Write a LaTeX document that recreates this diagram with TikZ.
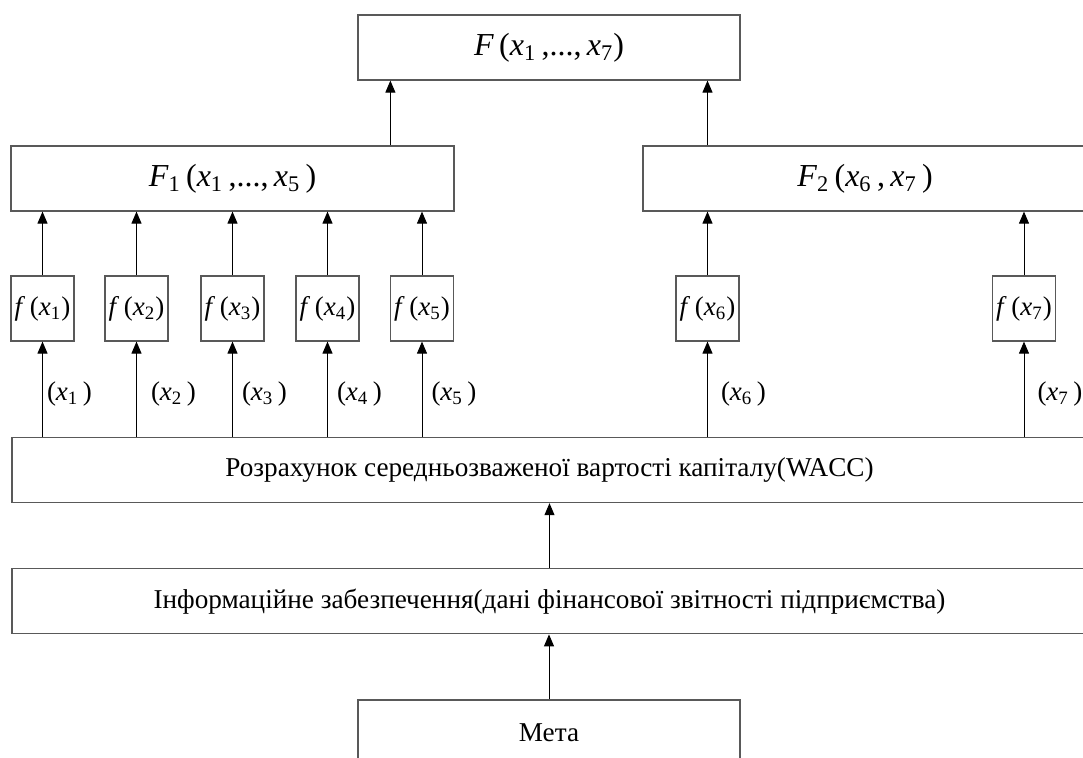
\documentclass[tikz,border=0pt]{standalone}
\usepackage{fontspec}
\setmainfont{Liberation Serif}
\usetikzlibrary{arrows.meta,positioning}
\newcommand{\xv}[1]{\textit{x}\textsubscript{#1}}

\begin{document}
\begin{tikzpicture}[
  x=0.5pt, y=-0.5pt,
  box/.style={draw=black!65, line width=0.6pt, minimum height=32.5pt, inner sep=0pt, font=\fontsize{13.6pt}{15pt}\selectfont},
  bigbox/.style={box, font=\fontsize{16pt}{18pt}\selectfont},
  fbox/.style={box, minimum width=31.5pt, font=\fontsize{13.5pt}{15pt}\selectfont},
  lbl/.style={font=\fontsize{13.5pt}{14pt}\selectfont, inner sep=0pt, right=4.5pt},
  arrow/.style={-{Triangle[length=6pt, width=5pt]}, line width=0.5pt}
]
\useasboundingbox (0,0) rectangle (1083,758);
\clip (0,0) rectangle (1083,758);
\node[bigbox, minimum width=191pt] (top) at (549,47.5) {\textit{F}\,(\xv{1}\,,...,\,\xv{7})};
\node[bigbox, minimum width=221.5pt] (fone) at (232.5,178.5) {\textit{F}\textsubscript{1}\,(\xv{1}\,,...,\,\xv{5}\,)};
\node[bigbox, minimum width=222pt] (ftwo) at (865,178.5) {\textit{F}\textsubscript{2}\,(\xv{6}\,,\,\xv{7}\,)};
\node[fbox] (fa) at (42.5,308.5) {\textit{f}\,(\xv{1})};
\node[fbox] (fb) at (136.5,308.5) {\textit{f}\,(\xv{2})};
\node[fbox] (fc) at (232.5,308.5) {\textit{f}\,(\xv{3})};
\node[fbox] (fd) at (327.5,308.5) {\textit{f}\,(\xv{4})};
\node[fbox] (fe) at (422,308.5) {\textit{f}\,(\xv{5})};
\node[fbox] (ff) at (707.5,308.5) {\textit{f}\,(\xv{6})};
\node[fbox] (fg) at (1024,308.5) {\textit{f}\,(\xv{7})};
\node[box, minimum width=191pt] (meta) at (549,732.5) {Мета};
\node[box, minimum width=537.5pt, above=32.5pt of meta.north, anchor=south, xshift=0.25pt] (info) {Інформаційне забезпечення(дані фінансової звітності підприємства)};
\node[box, minimum width=537.5pt, above=32.5pt of info] (wacc) {Розрахунок середньозваженої вартості капіталу(WACC)};
\coordinate (ftop) at ([xshift=16.5pt]top.south west);

\draw[arrow] (ftop |- fone.north) -- (ftop);
\draw[arrow] (ff |- ftwo.north) -- (ff |- top.south);
\draw[arrow] (fa) -- (fa |- fone.south);
\draw[arrow] (fb) -- (fb |- fone.south);
\draw[arrow] (fc) -- (fc |- fone.south);
\draw[arrow] (fd) -- (fd |- fone.south);
\draw[arrow] (fe) -- (fe |- fone.south);
\draw[arrow] (ff) -- (ff |- ftwo.south);
\draw[arrow] (fg) -- (fg |- ftwo.south);
\draw[arrow] (fa |- wacc.north) -- node[lbl, pos=0.45, right=2pt] {(\xv{1}\,)} (fa);
\draw[arrow] (fb |- wacc.north) -- node[lbl, pos=0.45, right=7pt] {(\xv{2}\,)} (fb);
\draw[arrow] (fc |- wacc.north) -- node[lbl, pos=0.45] {(\xv{3}\,)} (fc);
\draw[arrow] (fd |- wacc.north) -- node[lbl, pos=0.45] {(\xv{4}\,)} (fd);
\draw[arrow] (fe |- wacc.north) -- node[lbl, pos=0.45] {(\xv{5}\,)} (fe);
\draw[arrow] (ff |- wacc.north) -- node[lbl, pos=0.45, right=6.5pt] {(\xv{6}\,)} (ff);
\draw[arrow] (fg |- wacc.north) -- node[lbl, pos=0.45, right=6.5pt] {(\xv{7}\,)} (fg);
\draw[arrow] (info) -- (wacc);
\draw[arrow] (meta) -- (meta |- info.south);
\end{tikzpicture}
\end{document}
